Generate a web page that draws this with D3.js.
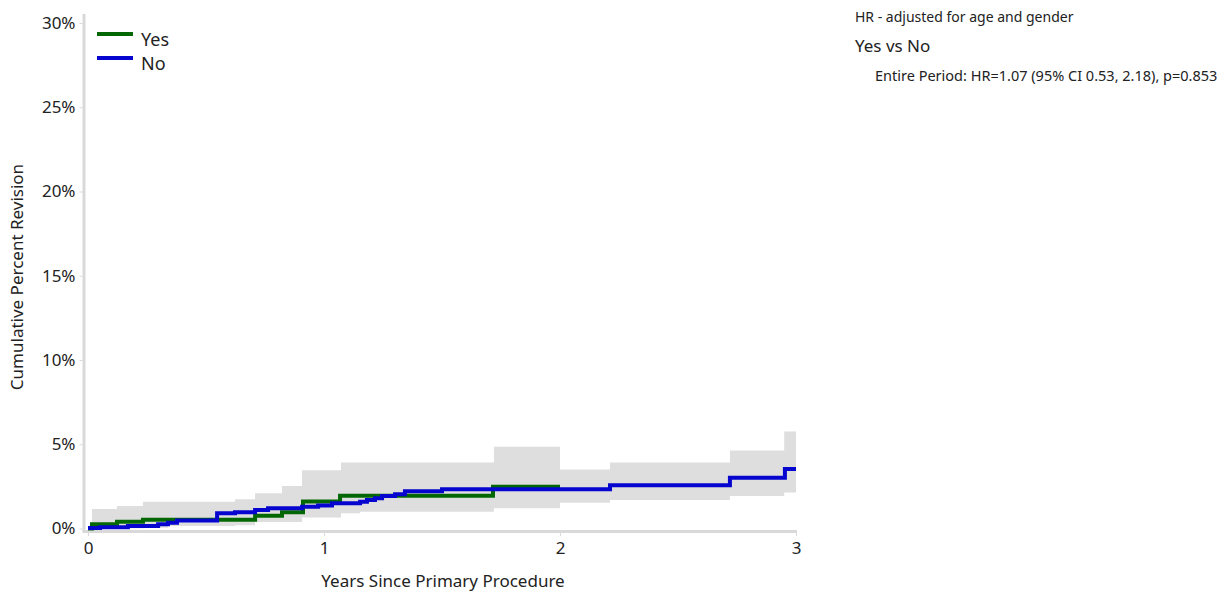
<!DOCTYPE html>
<html>
<head>
<meta charset="utf-8">
<script src="https://cdn.jsdelivr.net/npm/d3@7"></script>
<style>
  html, body { margin: 0; padding: 0; background: #fff; }
  svg { display: block; font-family: "Noto Sans", "Open Sans", sans-serif; }
</style>
</head>
<body>
<svg id="chart" width="1227" height="596"></svg>
<script>
// ---- Data ----
const yTicks = [0, 5, 10, 15, 20, 25, 30];
const yTickLabels = ["0%", "5%", "10%", "15%", "20%", "25%", "30%"];
const xTicks = [0, 1, 2, 3];
const xTickLabels = ["0", "1", "2", "3"];

const seriesNames = ["Yes", "No"];

const yesTimes  = [0, 0.017, 0.123, 0.233, 0.708, 0.822, 0.911, 1.068, 1.716, 2.0];
const yesValues = [0, 0.25, 0.40, 0.52, 0.76, 0.96, 1.60, 1.95, 2.48, 2.48];

const noTimes  = [0, 0.051, 0.169, 0.297, 0.339, 0.377, 0.547, 0.623, 0.708, 0.763, 0.907, 0.975, 1.034, 1.153, 1.182, 1.216, 1.246, 1.301, 1.343, 1.5, 2.212, 2.72, 2.953, 3.0];
const noValues = [0.03, 0.07, 0.15, 0.25, 0.34, 0.47, 0.90, 0.96, 1.10, 1.20, 1.29, 1.36, 1.50, 1.59, 1.69, 1.79, 1.93, 2.03, 2.21, 2.33, 2.56, 3.01, 3.53, 3.53];

const bandTimes = [0.017, 0.123, 0.233, 0.339, 0.623, 0.708, 0.822, 0.907, 1.072, 1.153, 1.72, 2.0, 2.212, 2.72, 2.95, 3.0];
const bandUpper = [1.16, 1.34, 1.59, 1.59, 1.73, 2.09, 2.52, 3.45, 3.91, 3.91, 4.85, 3.50, 3.91, 4.63, 5.76, 5.76];
const bandLower = [0.02, 0.02, 0.05, 0.15, 0.20, 0.39, 0.39, 0.65, 0.90, 1.00, 1.20, 1.53, 1.69, 1.93, 2.14, 2.14];

const annotTitle = "HR - adjusted for age and gender";
const annotCompare = "Yes vs No";
const annotDetail = "Entire Period: HR=1.07 (95% CI 0.53, 2.18), p=0.853";
const xTitle = "Years Since Primary Procedure";
const yTitle = "Cumulative Percent Revision";

// ---- Layout ----
const svg = d3.select("#chart");
const x = d3.scaleLinear().domain([0, 3]).range([88, 796]);
const y = d3.scaleLinear().domain([0, 30]).range([528.5, 23]);
const colors = { Yes: "#036803", No: "#0505cf" };
const textColor = "#222";

// CI band
const band = bandTimes.map((t, i) => ({ t, lo: bandLower[i], hi: bandUpper[i] }));
svg.append("path")
  .datum(band)
  .attr("fill", "#dedede")
  .attr("d", d3.area().curve(d3.curveStepAfter)
    .x(d => x(d.t)).y0(d => y(d.lo)).y1(d => y(d.hi)));

// Axes lines (light grey)
const axisColor = "#d9d9d9";
svg.append("line")
  .attr("x1", x(0) - 4).attr("x2", x(0) - 4)
  .attr("y1", y(30) - 9).attr("y2", y(0) + 3)
  .attr("stroke", axisColor).attr("stroke-width", 3);
svg.append("line")
  .attr("x1", x(0) - 5.5).attr("x2", x(3) + 1)
  .attr("y1", y(0) + 3).attr("y2", y(0) + 3)
  .attr("stroke", axisColor).attr("stroke-width", 3);

// Y axis
const yAxis = d3.axisLeft(y).tickValues(yTicks)
  .tickFormat((d, i) => yTickLabels[i]).tickSize(3).tickSizeOuter(0).tickPadding(4);
const gy = svg.append("g").attr("transform", `translate(${x(0) - 5.5},0)`).call(yAxis);
gy.select(".domain").remove();
gy.selectAll(".tick line").attr("stroke", axisColor);
gy.selectAll(".tick text").attr("font-size", 17).attr("fill", textColor)
  .attr("font-family", "'Noto Sans', sans-serif");

// X axis
const xAxis = d3.axisBottom(x).tickValues(xTicks)
  .tickFormat((d, i) => xTickLabels[i]).tickSize(3).tickSizeOuter(0).tickPadding(6);
const gx = svg.append("g").attr("transform", `translate(0,${y(0) + 4.5})`).call(xAxis);
gx.select(".domain").remove();
gx.selectAll(".tick line").attr("stroke", axisColor);
gx.selectAll(".tick text").attr("font-size", 17).attr("fill", textColor)
  .attr("font-family", "'Noto Sans', sans-serif");

// Lines
const line = d3.line().curve(d3.curveStepAfter).x(d => x(d.t)).y(d => y(d.v));
const yesData = yesTimes.map((t, i) => ({ t, v: yesValues[i] }));
const noData = noTimes.map((t, i) => ({ t, v: noValues[i] }));
svg.append("path").datum(yesData).attr("fill", "none")
  .attr("stroke", colors.Yes).attr("stroke-width", 4).attr("d", line);
svg.append("path").datum(noData).attr("fill", "none")
  .attr("stroke", colors.No).attr("stroke-width", 4).attr("d", line);

// Axis titles
svg.append("text").attr("x", 443).attr("y", 587).attr("text-anchor", "middle")
  .attr("font-size", 17).attr("fill", textColor).text(xTitle);
svg.append("text").attr("transform", "translate(23,277) rotate(-90)")
  .attr("text-anchor", "middle").attr("font-size", 17).attr("fill", textColor).text(yTitle);

// Legend
const legend = svg.append("g");
seriesNames.forEach((name, i) => {
  const ly = 34 + i * 24;
  legend.append("line").attr("x1", 97).attr("x2", 133).attr("y1", ly).attr("y2", ly)
    .attr("stroke", colors[name]).attr("stroke-width", 4);
  legend.append("text").attr("x", 141).attr("y", ly + 12)
    .attr("font-size", 18).attr("fill", textColor).text(name);
});

// Annotation
svg.append("text").attr("x", 855).attr("y", 22).attr("font-size", 14)
  .attr("fill", textColor).text(annotTitle);
svg.append("text").attr("x", 855).attr("y", 52).attr("font-size", 17)
  .attr("fill", textColor).text(annotCompare);
svg.append("text").attr("x", 875).attr("y", 81).attr("font-size", 14.5)
  .attr("fill", textColor).text(annotDetail);
</script>
</body>
</html>
